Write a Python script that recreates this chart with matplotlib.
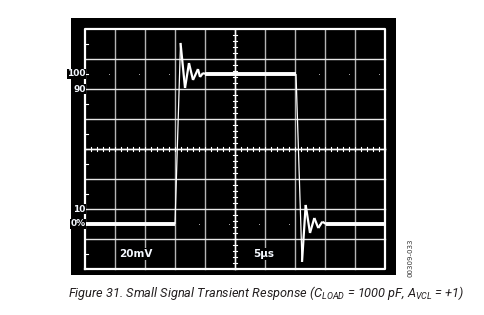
import numpy as np
import matplotlib
matplotlib.use("Agg")
from matplotlib import pyplot as plt

# scope settings (per division)
volts_per_div = 20      # mV
time_per_div = 5        # us
n_xdiv = 10
n_ydiv = 8
y_bottom = -30          # mV at bottom of graticule

# captured waveform (time in us, level in mV)
t_us = [0.0, 15.0, 15.92, 16.67, 17.33, 18.0, 18.83, 19.17, 19.67, 20.0,
        35.17, 36.17, 36.78, 37.5, 38.22, 38.88, 39.55, 40.2, 50.0]
v_mv = [0.0, 0.0, 120.7, 90.7, 107.3, 96.0, 103.3, 98.0, 100.7, 100.0,
        100.0, -25.3, 12.7, -6.0, 4.0, -2.7, 1.5, 0.0, 0.0]

# level markers on the left edge
level_labels = ["100", "90", "10", "0%"]
level_values = [100, 90, 10, 0]

scale_labels = ["20mV", "5µs"]
fig_code = "00309-033"

plt.rcParams['mathtext.fontset'] = 'custom'
plt.rcParams['mathtext.it'] = 'Roboto:italic'
plt.rcParams['mathtext.rm'] = 'Roboto:italic'

fig = plt.figure(figsize=(4.85, 3.15), dpi=100)
# screen area in pixels: x 71..396, y 18..275
ax = fig.add_axes([71 / 485, 1 - 275 / 315, 325 / 485, 257 / 315])
ax.set_facecolor("black")
for s in ax.spines.values():
    s.set_visible(False)
ax.set_xticks([])
ax.set_yticks([])

x0, x1 = 0, n_xdiv * time_per_div
y0, y1 = y_bottom, y_bottom + n_ydiv * volts_per_div
px_x = time_per_div / 30.0
px_y = volts_per_div / 30.0
ax.set_xlim(x0 - 14 * px_x, x1 + 11 * px_x)
ax.set_ylim(y0 - 6 * px_y, y1 + 11 * px_y)

# graticule
for xv in np.arange(x0 + time_per_div, x1, time_per_div):
    ax.plot([xv, xv], [y0, y1], color="#b4b4b4", lw=1.0, zorder=1)
for yv in np.arange(y0 + volts_per_div, y1, volts_per_div):
    ax.plot([x0, x1], [yv, yv], color="#e6e6e6", lw=1.0, zorder=1)
ax.plot([x0, x1, x1, x0, x0], [y0, y0, y1, y1, y0], color="white", lw=1.6, zorder=2)

# centre cross with minor ticks
xc = (x0 + x1) / 2
yc = (y0 + y1) / 2
ax.plot([x0, x1], [yc, yc], color="white", lw=1.0, zorder=2)
ax.plot([xc, xc], [y0, y1], color="white", lw=1.0, zorder=2)
for xv in np.arange(x0, x1 + 0.01, time_per_div / 5):
    ax.plot([xv, xv], [yc - 2 * px_y, yc + 2 * px_y], color="white", lw=0.8, zorder=2)
for yv in np.arange(y0, y1 + 0.01, volts_per_div / 5):
    ax.plot([xc - 2 * px_x, xc + 2 * px_x], [yv, yv], color="white", lw=0.8, zorder=2)

# half-division ticks on left edge
for yv in np.arange(y0 + volts_per_div / 2, y1, volts_per_div):
    ax.plot([x0, x0 + 3 * px_x], [yv, yv], color="white", lw=0.8, zorder=2)

# dots on 0% and 100% rows
dot_x = np.arange(x0 + time_per_div, x1 + 0.01, time_per_div) - 1
for lv in [0, 100]:
    ax.plot(dot_x, [lv] * len(dot_x), ls="none", marker="s", ms=0.7,
            mew=0, color="#a0a0a0", zorder=1)

# waveform: thin on edges, thick when settled
t = np.array(t_us)
v = np.array(v_mv)
for i in range(len(t) - 1):
    slope = abs(v[i + 1] - v[i]) / max(t[i + 1] - t[i], 1e-6)
    if slope == 0:
        lw = 2.8
    elif slope > 80:
        lw = 0.9
    else:
        lw = 1.6
    ax.plot(t[i:i + 2], v[i:i + 2], color="white", lw=lw,
            solid_capstyle="butt", zorder=4)

# level labels
for lab, lv in zip(level_labels, level_values):
    ax.text(x0 + 0.6 * px_x, lv, lab, color="#f4f8ff", fontsize=6.5, fontweight="bold",
            ha="right", va="center", zorder=5,
            bbox=dict(facecolor="black", edgecolor="none", pad=0.3))

# scale labels
ax.text(x0 + 34 * px_x, y0 + 15 * px_y, scale_labels[0], color="#f4f8ff", fontsize=7.5,
        fontweight="bold", ha="left", va="center", zorder=5,
        bbox=dict(facecolor="black", edgecolor="none", pad=0.8))
ax.text(x0 + 168 * px_x, y0 + 15 * px_y, scale_labels[1], color="#f4f8ff", fontsize=7.5,
        fontweight="bold", ha="left", va="center", zorder=5,
        bbox=dict(facecolor="black", edgecolor="none", pad=0.8))

# figure code, rotated
fig.text(411 / 485, 1 - 258 / 315, fig_code, rotation=90, fontsize=5,
         color="#333333", ha="center", va="center")

# caption, sized to the reference width (~397 px)
cap = (r"Figure 31. Small Signal Transient Response ($C_{LOAD}$ = 1000 pF, "
       r"$A_{VCL}$ = +1)")
cap_txt = fig.text(266 / 485, 1 - 293 / 315, cap, fontsize=10, style="italic",
                   family=["Roboto", "DejaVu Sans"], color="#231f20",
                   ha="center", va="center")
renderer = fig.canvas.get_renderer()
w = cap_txt.get_window_extent(renderer).width
cap_txt.set_fontsize(10 * 397 / w)

fig.savefig("out.png", dpi=100)
